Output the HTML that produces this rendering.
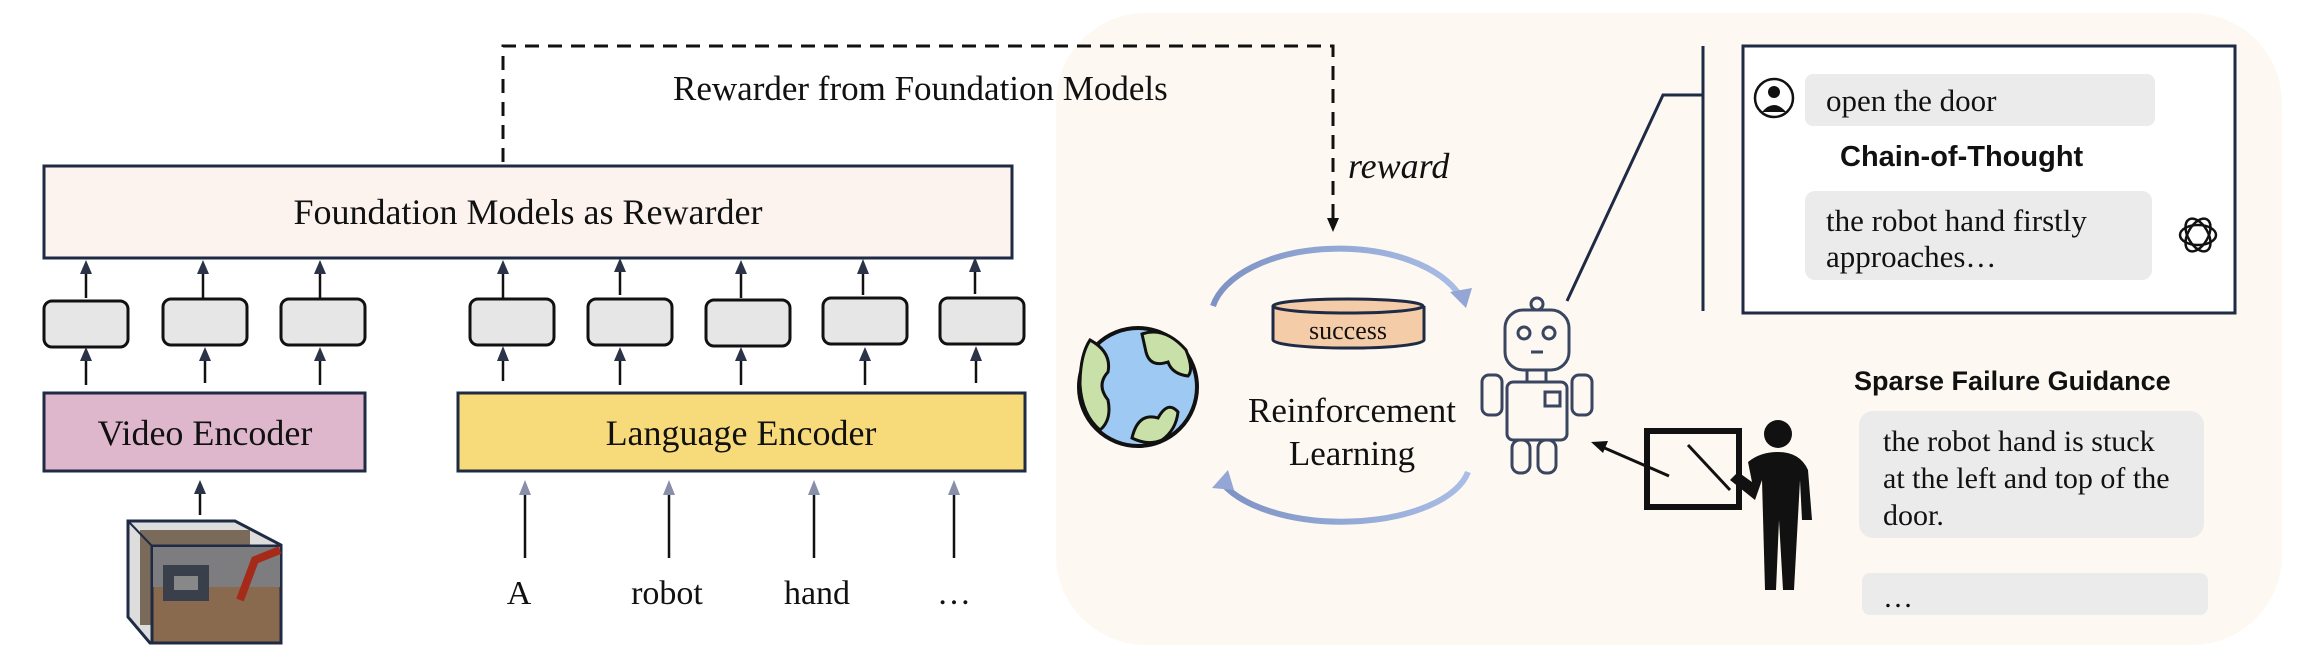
<!DOCTYPE html>
<html><head><meta charset="utf-8"><style>
html,body{margin:0;padding:0;background:#fff;}
svg{display:block;}
.s{font-family:"Liberation Serif",serif;fill:#111;}
.b{font-family:"Liberation Sans",sans-serif;font-weight:bold;fill:#111;}
</style></head><body>
<svg width="2298" height="670" viewBox="0 0 2298 670" xmlns="http://www.w3.org/2000/svg">
<defs>
<linearGradient id="arc" x1="0" x2="1"><stop offset="0" stop-color="#7e93c4"/><stop offset="1" stop-color="#a9bde6"/></linearGradient>
</defs>
<rect x="1056" y="13" width="1226" height="632" rx="90" fill="#fdf8f2"/>
<path d="M503 162 V46 H1333 V222" fill="none" stroke="#111" stroke-width="3" stroke-dasharray="14,9"/>
<polygon points="1327,218 1339,218 1333,232" fill="#111"/>
<text class="s" x="673" y="100" font-size="35">Rewarder from Foundation Models</text>
<text class="s" x="1348" y="178" font-size="36" font-style="italic">reward</text>
<rect x="44" y="166" width="968" height="92" fill="#fcf3ee" stroke="#1f2a44" stroke-width="3"/>
<text class="s" x="528" y="224" font-size="36" text-anchor="middle">Foundation Models as Rewarder</text>
<g fill="#e6e6e6" stroke="#111" stroke-width="3">
<rect x="44" y="301" width="84" height="46" rx="8"/>
<rect x="163" y="299" width="84" height="46" rx="8"/>
<rect x="281" y="299" width="84" height="46" rx="8"/>
<rect x="470" y="299" width="84" height="46" rx="8"/>
<rect x="588" y="299" width="84" height="46" rx="8"/>
<rect x="706" y="300" width="84" height="46" rx="8"/>
<rect x="823" y="298" width="84" height="46" rx="8"/>
<rect x="940" y="298" width="84" height="46" rx="8"/>
</g>
<g stroke="#111" stroke-width="2.5">
<line x1="86" y1="298" x2="86" y2="270"/><line x1="203" y1="298" x2="203" y2="270"/><line x1="320" y1="298" x2="320" y2="270"/>
<line x1="503" y1="298" x2="503" y2="270"/><line x1="620" y1="295" x2="620" y2="268"/><line x1="741" y1="298" x2="741" y2="270"/>
<line x1="863" y1="295" x2="863" y2="270"/><line x1="975" y1="294" x2="975" y2="268"/>
<line x1="86" y1="385" x2="86" y2="357"/><line x1="205" y1="383" x2="205" y2="357"/><line x1="320" y1="385" x2="320" y2="357"/>
<line x1="503" y1="381" x2="503" y2="357"/><line x1="620" y1="385" x2="620" y2="357"/><line x1="741" y1="385" x2="741" y2="357"/>
<line x1="865" y1="385" x2="865" y2="357"/><line x1="976" y1="383" x2="976" y2="357"/>
<line x1="200" y1="515" x2="200" y2="490"/>
</g>
<g fill="#2a3348">
<polygon points="80,274 92,274 86,260"/><polygon points="197,274 209,274 203,260"/><polygon points="314,274 326,274 320,260"/>
<polygon points="497,274 509,274 503,260"/><polygon points="614,272 626,272 620,258"/><polygon points="735,274 747,274 741,260"/>
<polygon points="857,274 869,274 863,259"/><polygon points="969,272 981,272 975,257"/>
<polygon points="80,361 92,361 86,347"/><polygon points="199,361 211,361 205,347"/><polygon points="314,361 326,361 320,347"/>
<polygon points="497,361 509,361 503,346"/><polygon points="614,361 626,361 620,347"/><polygon points="735,361 747,361 741,347"/>
<polygon points="859,361 871,361 865,347"/><polygon points="970,361 982,361 976,346"/>
<polygon points="194,494 206,494 200,480"/>
</g>
<rect x="44" y="393" width="321" height="78" fill="#dfb7cc" stroke="#1f2a44" stroke-width="3"/>
<text class="s" x="205" y="445" font-size="36" text-anchor="middle">Video Encoder</text>
<rect x="458" y="393" width="567" height="78" fill="#f7da7a" stroke="#1f2a44" stroke-width="3"/>
<text class="s" x="741" y="445" font-size="36" text-anchor="middle">Language Encoder</text>
<g stroke="#111" stroke-width="2.5">
<line x1="525" y1="558" x2="525" y2="492"/><line x1="669" y1="558" x2="669" y2="492"/>
<line x1="814" y1="558" x2="814" y2="492"/><line x1="954" y1="558" x2="954" y2="492"/>
</g>
<g fill="#8790a8">
<polygon points="519,495 531,495 525,480"/><polygon points="663,495 675,495 669,480"/>
<polygon points="808,495 820,495 814,480"/><polygon points="948,495 960,495 954,480"/>
</g>
<g class="s" font-size="34" text-anchor="middle">
<text x="519" y="604">A</text><text x="667" y="604">robot</text><text x="817" y="604">hand</text><text x="954" y="604">…</text>
</g>
<polygon points="128,521 235,521 281,545 281,643 150,643 128,617" fill="#ddd" stroke="#1f2a44" stroke-width="3"/>
<rect x="140" y="530" width="110" height="95" fill="#7a6a5a"/>
<rect x="152" y="546" width="129" height="97" fill="#8a6a4e" stroke="#1f2a44" stroke-width="3"/>
<rect x="153" y="547" width="127" height="40" fill="#7d7d80"/>
<rect x="163" y="565" width="46" height="36" fill="#3a3f4c"/>
<rect x="174" y="576" width="24" height="14" fill="#888"/>
<path d="M240 600 L255 560 L280 550" stroke="#a52a1a" stroke-width="8" fill="none"/>
<line x1="128" y1="521" x2="152" y2="546" stroke="#1f2a44" stroke-width="2"/>
<path d="M1213 306 A128 70 0 0 1 1460 296" fill="none" stroke="url(#arc)" stroke-width="6"/>
<polygon points="1450,292 1472,288 1466,308" fill="#93a6d6"/>
<path d="M1468 472 A128 60 0 0 1 1220 480" fill="none" stroke="url(#arc)" stroke-width="6"/>
<polygon points="1212,488 1228,470 1234,490" fill="#93a6d6"/>
<path d="M1273 306 V340 A75 8 0 0 0 1424 340 V306" fill="#f4cca8" stroke="#1f2a44" stroke-width="3"/>
<ellipse cx="1348" cy="306" rx="75" ry="7" fill="#f4cca8" stroke="#1f2a44" stroke-width="3"/>
<text class="s" x="1348" y="339" font-size="26" text-anchor="middle">success</text>
<circle cx="1138" cy="387" r="59" fill="#9ec9f2" stroke="#111" stroke-width="4"/>
<path d="M1090 340 Q1112 352 1108 372 Q1096 385 1108 400 Q1112 420 1100 430 Q1082 415 1080 385 Q1080 355 1090 340Z" fill="#c9e0a8" stroke="#111" stroke-width="3"/>
<path d="M1142 334 Q1165 326 1186 350 Q1194 370 1188 376 Q1172 374 1168 362 Q1150 368 1146 352Z" fill="#c9e0a8" stroke="#111" stroke-width="3"/>
<path d="M1132 438 Q1138 412 1158 418 Q1168 400 1178 412 Q1176 430 1162 440 Q1148 446 1132 438Z" fill="#c9e0a8" stroke="#111" stroke-width="3"/>
<text class="s" x="1352" y="422" font-size="35" text-anchor="middle">Reinforcement</text>
<text class="s" x="1352" y="465" font-size="35" text-anchor="middle">Learning</text>
<g fill="none" stroke="#3a4560" stroke-width="3">
<circle cx="1537" cy="304" r="6"/>
<rect x="1505" y="310" width="64" height="60" rx="18"/>
<circle cx="1524" cy="333" r="6"/><circle cx="1549" cy="333" r="6"/>
<line x1="1531" y1="352" x2="1543" y2="352"/>
<line x1="1527" y1="370" x2="1527" y2="382"/><line x1="1546" y1="370" x2="1546" y2="382"/>
<rect x="1507" y="382" width="60" height="58" rx="6"/>
<rect x="1545" y="392" width="15" height="14"/>
<rect x="1482" y="375" width="20" height="40" rx="7"/><rect x="1572" y="375" width="20" height="40" rx="7"/>
<rect x="1512" y="440" width="18" height="33" rx="8"/><rect x="1538" y="440" width="18" height="33" rx="8"/>
</g>
<polyline points="1567,301 1663,95 1703,95" fill="none" stroke="#1f2a44" stroke-width="3"/>
<line x1="1703" y1="46" x2="1703" y2="311" stroke="#1f2a44" stroke-width="3"/>
<rect x="1743" y="46" width="492" height="267" fill="#fff" stroke="#1f2a44" stroke-width="3"/>
<circle cx="1774" cy="98" r="19" fill="#fff" stroke="#111" stroke-width="2.5"/>
<circle cx="1774" cy="92" r="6" fill="#111"/>
<path d="M1762 112 Q1774 98 1786 112 Z" fill="#111"/>
<rect x="1805" y="74" width="350" height="52" rx="8" fill="#ebebeb"/>
<text class="s" x="1826" y="111" font-size="31">open the door</text>
<text class="b" x="1840" y="166" font-size="29">Chain-of-Thought</text>
<rect x="1805" y="191" width="347" height="89" rx="10" fill="#ebebeb"/>
<text class="s" x="1826" y="231" font-size="31">the robot hand firstly</text>
<text class="s" x="1826" y="267" font-size="31">approaches…</text>
<g fill="none" stroke="#111" stroke-width="2.5">
<ellipse cx="2198" cy="235" rx="18" ry="10"/>
<ellipse cx="2198" cy="235" rx="18" ry="10" transform="rotate(60 2198 235)"/>
<ellipse cx="2198" cy="235" rx="18" ry="10" transform="rotate(-60 2198 235)"/>
</g>
<text class="b" x="1854" y="390" font-size="27">Sparse Failure Guidance</text>
<rect x="1859" y="411" width="345" height="127" rx="14" fill="#ebebeb"/>
<text class="s" x="1883" y="451" font-size="30">the robot hand is stuck</text>
<text class="s" x="1883" y="488" font-size="30">at the left and top of the</text>
<text class="s" x="1883" y="525" font-size="30">door.</text>
<rect x="1862" y="573" width="346" height="42" rx="8" fill="#ebebeb"/>
<text class="s" x="1883" y="607" font-size="30">…</text>
<rect x="1647" y="431" width="92" height="76" fill="none" stroke="#111" stroke-width="6"/>
<line x1="1688" y1="445" x2="1730" y2="490" stroke="#111" stroke-width="3"/>
<circle cx="1778" cy="434" r="14" fill="#111"/>
<path d="M1748 462 Q1760 452 1778 452 Q1800 452 1808 470 L1812 520 L1802 520 L1800 480 L1794 590 L1783 590 L1779 520 L1776 590 L1765 590 L1762 480 L1755 500 L1730 480 L1738 472 L1752 482 Z" fill="#111"/>
<line x1="1669" y1="476" x2="1600" y2="446" stroke="#111" stroke-width="3"/>
<polygon points="1591,442 1608,441 1603,453" fill="#111"/>
</svg>
</body></html>
